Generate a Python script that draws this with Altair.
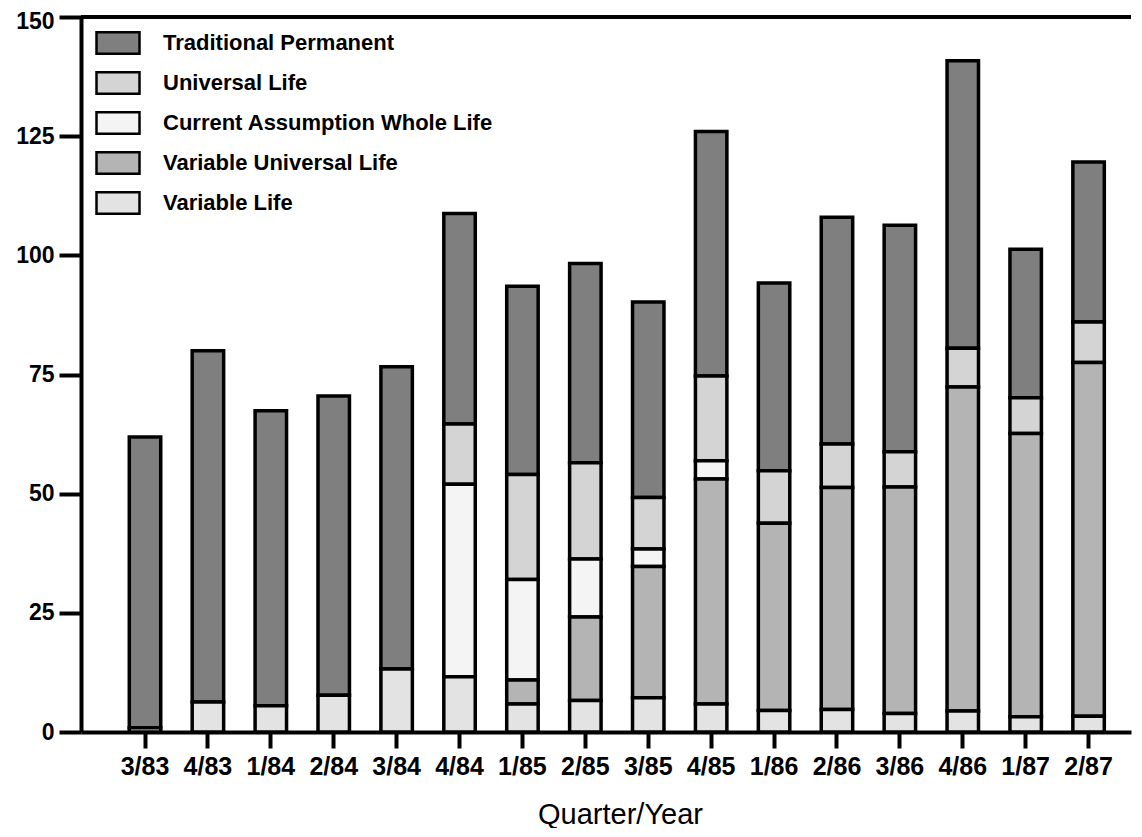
import altair as alt
import pandas as pd

quarters = ["3/83", "4/83", "1/84", "2/84", "3/84", "4/84", "1/85", "2/85",
            "3/85", "4/85", "1/86", "2/86", "3/86", "4/86", "1/87", "2/87"]

traditional_permanent = [61.0, 73.7, 61.9, 62.8, 63.4, 44.2, 39.5, 41.8,
                         41.0, 51.3, 39.4, 47.6, 47.5, 60.3, 31.2, 33.6]
universal_life = [0, 0, 0, 0, 0, 12.6, 22.0, 20.2,
                  10.8, 17.8, 11.0, 9.1, 7.4, 8.1, 7.5, 8.5]
current_assumption_whole_life = [0, 0, 0, 0, 0, 40.4, 21.1, 12.2,
                                 3.7, 3.8, 0, 0, 0, 0, 0, 0]
variable_universal_life = [0, 0, 0, 0, 0, 0, 5.0, 17.5,
                           27.5, 47.2, 39.3, 46.6, 47.5, 68.0, 59.4, 74.2]
variable_life = [0.9, 6.3, 5.5, 7.7, 13.2, 11.6, 5.9, 6.6,
                 7.2, 5.9, 4.5, 4.7, 3.9, 4.4, 3.2, 3.3]

series_names = ["Traditional Permanent", "Universal Life",
                "Current Assumption Whole Life", "Variable Universal Life",
                "Variable Life"]
series_values = [traditional_permanent, universal_life,
                 current_assumption_whole_life, variable_universal_life,
                 variable_life]
series_fills = ["#7f7f7f", "#d4d4d4", "#f4f4f4", "#b4b4b4", "#e3e3e3"]

y_ticks = [0, 25, 50, 75, 100, 125, 150]
y_max = [150]

rows = []
for rank, (name, vals) in enumerate(zip(series_names, series_values)):
    for q, v in zip(quarters, vals):
        rows.append({"quarter": q, "series": name, "value": v, "rank": rank})
df = pd.DataFrame(rows)

FONT = "Liberation Sans"

bars = alt.Chart(df).transform_filter("datum.value > 0").mark_bar(
    stroke="black", strokeWidth=3.5, strokeJoin="miter"
).encode(
    x=alt.X("quarter:N", sort=quarters,
            scale=alt.Scale(paddingInner=0.5, paddingOuter=0.596, align=0.644),
            axis=alt.Axis(title="Quarter/Year", labelAngle=0, labelFontSize=25,
                          labelFontWeight="bold", labelColor="black",
                          labelPadding=6, tickSize=16, tickWidth=4,
                          tickColor="black", domainWidth=4, domainColor="black",
                          titleFontSize=29, titleFontWeight="normal",
                          titleColor="black", titleX=539, titleY=91,
                          titleBaseline="alphabetic", titleAlign="center")),
    y=alt.Y("value:Q", stack="zero",
            scale=alt.Scale(domain=[0, 150], nice=False),
            axis=alt.Axis(title=None, values=y_ticks, labelFontSize=23,
                          labelFontWeight="bold", labelColor="black",
                          labelPadding=5, tickSize=22, tickWidth=4,
                          tickColor="black", domainWidth=4,
                          domainColor="black",
                          labelOffset=alt.condition("datum.value == 150",
                                                    alt.value(4), alt.value(0)))),
    color=alt.Color("series:N",
                    scale=alt.Scale(domain=series_names, range=series_fills),
                    legend=alt.Legend(
                        title=None, orient="none", legendX=14, legendY=3,
                        symbolType="M-1,-0.5H1V0.5H-1Z", symbolSize=1849,
                        symbolStrokeColor="black", symbolStrokeWidth=2.5,
                        labelFontSize=22, labelFontWeight="bold",
                        labelColor="black", labelOffset=22, labelLimit=600,
                        rowPadding=1, padding=0)),
    order=alt.Order("rank:Q", sort="descending"),
)

top_line = alt.Chart(pd.DataFrame({"edge": y_max})).mark_rule(
    color="black", strokeWidth=4
).encode(y="edge:Q")

chart = alt.layer(bars, top_line).properties(
    width=1050, height=715,
    autosize=alt.AutoSizeParams(type="none"),
    padding={"left": 73, "top": 9, "right": 3, "bottom": 96},
).configure(font=FONT).configure_axis(grid=False).configure_view(stroke=None)

chart.save("out.html", embed_options={"renderer": "svg", "actions": False})
